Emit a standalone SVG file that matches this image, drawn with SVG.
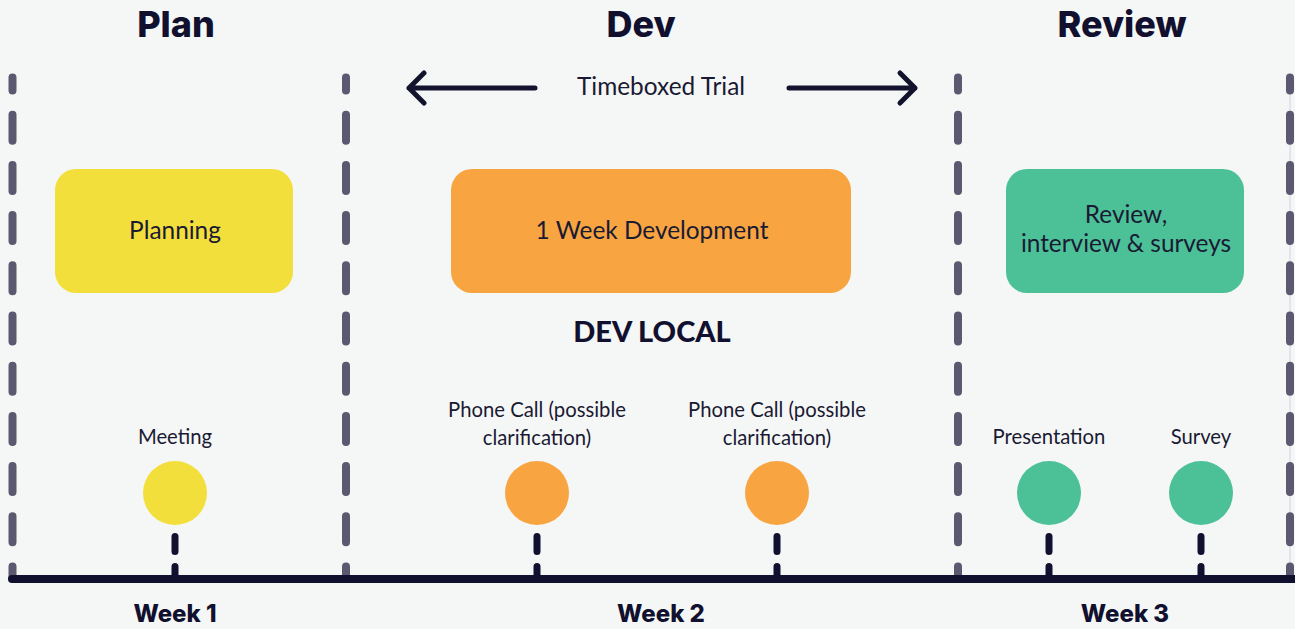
<svg xmlns="http://www.w3.org/2000/svg" width="1295" height="629" viewBox="0 0 1295 629">
<style>
.bg{fill:#F5F7F6}
.head{font-family:Inter,"Noto Sans",sans-serif;font-weight:800;font-size:36px;fill:#11112F;text-anchor:middle}
.week{font-family:Inter,"Noto Sans",sans-serif;font-weight:800;font-size:24px;fill:#11112F;text-anchor:middle}
.body{font-family:Lato,"Noto Sans",sans-serif;font-size:24.4px;fill:#1A1A33;text-anchor:middle}
.small{font-family:Lato,"Noto Sans",sans-serif;font-size:20.3px;fill:#1A1A33;text-anchor:middle}
.bold{font-family:Lato,"Noto Sans",sans-serif;font-weight:900;font-size:29px;fill:#11112F;text-anchor:middle}
.divider{stroke:#5B586F;stroke-width:8;stroke-linecap:round;stroke-dasharray:26 24.2;stroke-dashoffset:13;fill:none}
.stem{stroke:#11112F;stroke-width:7;stroke-linecap:round;stroke-dasharray:15 15;fill:none}
.arrow{stroke:#14132E;stroke-width:5;stroke-linecap:round;stroke-linejoin:round;fill:none}
.yellow{fill:#F3DF3B}
.orange{fill:#F8A541}
.green{fill:#4CC198}
</style>
<rect class="bg" x="0" y="0" width="1295" height="629"/>

<g id="headings">
<text class="head" x="176" y="37">Plan</text>
<text class="head" x="641" y="37">Dev</text>
<text class="head" x="1122" y="37">Review</text>
</g>

<g id="dividers">
<line x1="1290" y1="77.5" x2="1290" y2="578" stroke="#D2D3E6" stroke-width="1"/>
<line class="divider" x1="12.5" y1="77.5" x2="12.5" y2="578"/>
<line class="divider" x1="346" y1="77.5" x2="346" y2="578"/>
<line class="divider" x1="958" y1="77.5" x2="958" y2="578"/>
<line class="divider" x1="1290" y1="77.5" x2="1290" y2="578"/>
</g>

<g id="timeboxed-trial">
<path class="arrow" d="M535 88 H409 M424 73 L409 88 L424 103"/>
<path class="arrow" d="M789 88 H915 M900 73 L915 88 L900 103"/>
<text class="body" x="661" y="95">Timeboxed Trial</text>
</g>

<g id="planning">
<rect class="yellow" x="55" y="169" width="238" height="124" rx="21"/>
<text class="body" x="175" y="239">Planning</text>
</g>

<g id="development">
<rect class="orange" x="451" y="169" width="400" height="124" rx="21"/>
<text class="body" x="652" y="239">1 Week Development</text>
</g>

<g id="review">
<rect class="green" x="1006" y="169" width="238" height="124" rx="21"/>
<text class="body" x="1126" y="223">Review,</text>
<text class="body" x="1126" y="252">interview &amp; surveys</text>
</g>

<g id="dev-local">
<text class="bold" x="652" y="342">DEV LOCAL</text>
</g>

<g id="connectors">
<line x1="12" y1="579" x2="1295" y2="579" stroke="#11112F" stroke-width="8" stroke-linecap="round"/>
<line class="stem" x1="175" y1="536.5" x2="175" y2="578"/>
<line class="stem" x1="537" y1="536.5" x2="537" y2="578"/>
<line class="stem" x1="777" y1="536.5" x2="777" y2="578"/>
<line class="stem" x1="1049" y1="536.5" x2="1049" y2="578"/>
<line class="stem" x1="1201" y1="536.5" x2="1201" y2="578"/>
</g>

<g id="meeting">
<text class="small" x="175" y="444">Meeting</text>
<circle class="yellow" cx="175" cy="493" r="32"/>
</g>

<g id="phone-call-1">
<text class="small" x="537" y="417">Phone Call (possible</text>
<text class="small" x="537" y="445">clarification)</text>
<circle class="orange" cx="537" cy="493" r="32"/>
</g>

<g id="phone-call-2">
<text class="small" x="777" y="417">Phone Call (possible</text>
<text class="small" x="777" y="445">clarification)</text>
<circle class="orange" cx="777" cy="493" r="32"/>
</g>

<g id="presentation">
<text class="small" x="1049" y="444">Presentation</text>
<circle class="green" cx="1049" cy="493" r="32"/>
</g>

<g id="survey">
<text class="small" x="1201" y="444">Survey</text>
<circle class="green" cx="1201" cy="493" r="32"/>
</g>

<g id="weeks">
<text class="week" x="175" y="622">Week 1</text>
<text class="week" x="661" y="622">Week 2</text>
<text class="week" x="1125" y="622">Week 3</text>
</g>
</svg>
